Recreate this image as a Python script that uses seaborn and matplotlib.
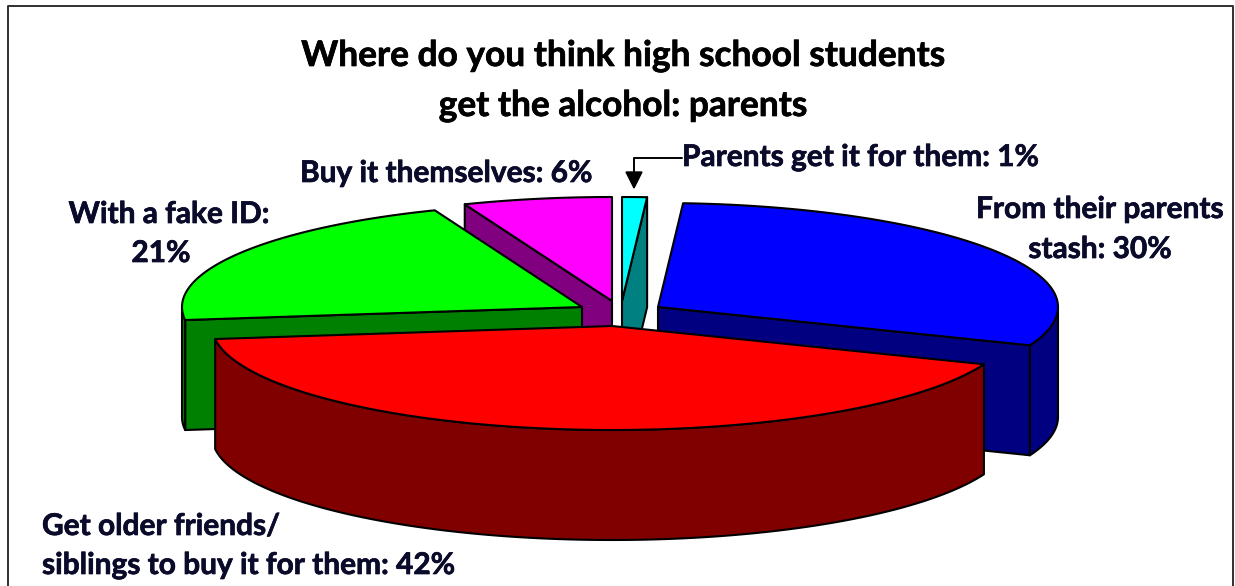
import numpy as np
import seaborn as sns
import matplotlib.pyplot as plt
import matplotlib.patheffects as pe

# share of answers, clockwise from 12 o'clock
categories = ['Parents get it for them', 'From their parents stash',
              'Get older friends/siblings to buy it for them', 'With a fake ID', 'Buy it themselves']
values = [1, 30, 42, 21, 6]
top_colors = ['#00ffff', '#0000ff', '#ff0000', '#00ff00', '#ff00ff']
side_colors = ['#008080', '#000080', '#800000', '#008000', '#800080']

# pixel position of each exploded slice's tip
tips = [(622, 301), (658, 307), (612, 326), (582, 307), (612, 301)]
RX, RY, DEPTH = 400, 104, 110
draw_order = [0, 4, 3, 1, 2]


def ell(tip, t):
    return np.column_stack([tip[0] + RX * np.sin(t), tip[1] - RY * np.cos(t)])


def wall(ax, pts, color):
    low = pts + np.array([0, DEPTH])
    poly = np.vstack([pts, low[::-1]])
    ax.fill(poly[:, 0], poly[:, 1], facecolor=color, edgecolor='black', linewidth=1.5, joinstyle='round', zorder=2)


def draw_slice(ax, tip, t0, t1, top, side):
    t = np.linspace(t0, t1, 200)
    arc = ell(tip, t)
    tip_pt = np.array([tip])

    # side walls that face the viewer
    if np.sin(t0) < -1e-6:
        wall(ax, np.vstack([tip_pt, arc[:1]]), side)
    if np.sin(t1) > 1e-6:
        wall(ax, np.vstack([arc[-1:], tip_pt]), side)
    front = (t >= np.pi / 2) & (t <= 3 * np.pi / 2)
    if front.any():
        wall(ax, arc[front], side)

    outline = np.vstack([tip_pt, arc])
    ax.fill(outline[:, 0], outline[:, 1], facecolor=top, edgecolor='black', linewidth=1.5, joinstyle='round', zorder=2)


def label(ax, x, y, s, ha='left'):
    ax.text(x, y, s, ha=ha, va='center', fontsize=21.5, fontweight='bold', color='#0a0a2a',
            path_effects=[pe.withStroke(linewidth=0.5, foreground='#0a0a2a')])


sns.set_theme(style='white')
plt.rcParams['font.family'] = ['Lato', 'DejaVu Sans']

fig = plt.figure(figsize=(12.35, 5.86), dpi=100)
ax = fig.add_axes([0, 0, 1, 1])
ax.set_xlim(0, 1235)
ax.set_ylim(586, 0)
ax.axis('off')

# frame, bottom edge runs off the picture
ax.plot([7.5, 7.5, 1233, 1233], [600, 5.5, 5.5, 600], color='#303030', linewidth=1.4, zorder=1)

angles = np.concatenate([[0], np.cumsum(values)]) / sum(values) * 2 * np.pi
for i in draw_order:
    draw_slice(ax, tips[i], angles[i], angles[i + 1], top_colors[i], side_colors[i])

for y, line in [(56, 'Where do you think high school students'), (106, 'get the alcohol: parents')]:
    ax.text(623, y, line, ha='center', va='center', fontsize=25.4, fontweight='bold', color='black',
            path_effects=[pe.withStroke(linewidth=0.5, foreground='black')])

label(ax, 300, 173, f'{categories[4]}: {values[4]}%')
label(ax, 682, 157, f'{categories[0]}: {values[0]}%')
label(ax, 1100, 209, 'From their parents', ha='center')
label(ax, 1100, 249, f'stash: {values[1]}%', ha='center')
label(ax, 169, 214, f'{categories[3]}:', ha='center')
label(ax, 161, 253, f'{values[3]}%', ha='center')
label(ax, 42, 526, 'Get older friends/')
label(ax, 42, 565, f'siblings to buy it for them: {values[2]}%')

# leader for the small slice
ax.plot([682, 634, 634], [158, 158, 174], color='black', linewidth=1.4, zorder=3)
ax.fill([626, 642, 634], [172, 172, 188], color='black', zorder=3)

plt.savefig('out.png', dpi=100)
plt.close()
